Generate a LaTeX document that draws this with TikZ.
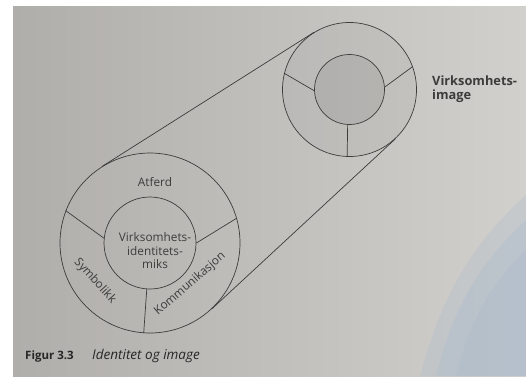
\documentclass[tikz,border=0pt]{standalone}
\usepackage{fontspec}
\setmainfont{Open Sans}[Ligatures={NoCommon}]
\usetikzlibrary{fadings}
\definecolor{ink}{RGB}{62,60,58}
\definecolor{pageL}{RGB}{176,174,171}
\definecolor{pageR}{RGB}{210,208,205}
\definecolor{shadow}{RGB}{172,188,204}
\begin{document}
\begin{tikzpicture}[x=1pt,y=-1pt,
  ring/.style={circle,draw=ink,line width=0.7pt,inner sep=0pt},
  rule/.style={draw=ink,line width=0.7pt},
  lab/.style={text=ink,font=\fontsize{11.8}{13.5}\selectfont,inner sep=0pt},
  capt/.style={text=black!85,inner sep=0pt,anchor=base west}]
\useasboundingbox (0,0) rectangle (526,376);
% paper
\fill[white] (0,0) rectangle (526,376);
\shade[left color=pageL,right color=pageR] (13,6) rectangle (526,376);
\fill[shadow,opacity=0.3] (526,195) .. controls (470,245) and (440,300) .. (420,376) -- (526,376) -- cycle;
\fill[shadow,opacity=0.4] (526,220) .. controls (480,262) and (452,310) .. (436,376) -- (526,376) -- cycle;
\fill[shadow,opacity=0.35] (526,250) .. controls (490,285) and (470,320) .. (456,376) -- (526,376) -- cycle;
% large wheel: identity mix
\node[ring,minimum size=180pt] (bigout) at (150,243) {};
\node[ring,minimum size=92pt] (bigin) at (150,243) {};
\draw[rule] (bigin.174) -- (bigout.159);
\draw[rule] (bigin.0) -- (bigout.16);
\draw[rule] (bigin.-94) -- (bigout.-94);
% small wheel: image
\node[ring,minimum size=134pt,fill=black,fill opacity=0.03,text opacity=1] (smallout) at (349.5,89.5) {};
\node[ring,minimum size=70pt,fill=black,fill opacity=0.06,text opacity=1] (smallin) at (349.5,89.5) {};
\draw[rule] (smallin.182) -- (smallout.166);
\draw[rule] (smallin.4) -- (smallout.20);
\draw[rule] (smallin.-93) -- (smallout.-92);
% projection lines
\draw[rule] (bigout.122.4) -- (smallout.122.4);
\draw[rule] (bigout.-47.2) -- (smallout.-47.2);
% labels
\node[lab] (atferd) at (155,182) {Atferd};
\node[lab,align=center] (mix) at (155,251) {Virksomhets-\\identitets-\\miks};
\node[lab,rotate=-48] (symb) at (95,281) {Symbolikk};
\node[lab,rotate=41] (komm) at (190,284) {Kommunikasjon};
\node[lab,align=left,anchor=north west,font=\fontsize{12.8}{14}\selectfont\bfseries] (img) at (432,76) {Virksomhets-\\image};
\node[capt,font=\fontsize{11.5}{13}\selectfont\bfseries] (fig) at (25,359) {Figur 3.3};
\node[capt,font=\fontsize{13.5}{15}\selectfont\itshape] (title) at (92,359) {Identitet og image};
\end{tikzpicture}
\end{document}
